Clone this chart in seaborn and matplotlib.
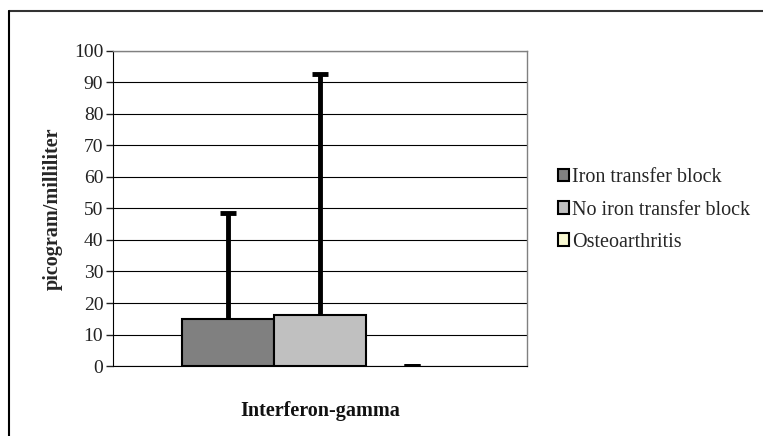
"""
Interferon-gamma levels by group, grouped bar chart with upper error bars
"""
import pandas as pd
import numpy as np
import matplotlib
matplotlib.use("Agg")
import matplotlib.pyplot as plt
import seaborn as sns
from matplotlib.lines import Line2D

# data
groups = ['Iron transfer block', 'No iron transfer block', 'Osteoarthritis']
cytokine = 'Interferon-gamma'
means = [14.8, 16.3, 0.0]
upper_err = [33.7, 76.3, 0.0]
colors = ['#808080', '#C0C0C0', '#FFFFCC']
y_ticks = [0, 10, 20, 30, 40, 50, 60, 70, 80, 90, 100]

df = pd.DataFrame({'cytokine': [cytokine] * len(groups),
                   'group': groups,
                   'value': means})

sns.set_style('white')
plt.rcParams['font.family'] = ['Liberation Serif', 'DejaVu Serif']

fig = plt.figure(figsize=(7.63, 4.36), dpi=100)
W, H = 763, 436
ax = fig.add_axes([113 / W, (H - 366) / H, (527 - 113) / W, (366 - 51) / H])

sns.barplot(data=df, x='cytokine', y='value', hue='group', hue_order=groups,
            palette=colors, width=0.8, edgecolor='black', linewidth=1.5,
            errorbar=None, ax=ax, zorder=3, legend=True)

bars = ax.patches[:len(groups)]
# a zero-height bar shows no outline
for patch, m in zip(bars, means):
    if m == 0:
        patch.set_linewidth(0)

# upper-only error bars from the bar centres
for patch, m, e in zip(bars, means, upper_err):
    xc = patch.get_x() + patch.get_width() / 2
    _, caps, _ = ax.errorbar(xc, m, yerr=[[0], [e]], fmt='none', ecolor='black',
                             elinewidth=3.5, capsize=5.5, capthick=3.5, zorder=4)
    if e > 0 and len(caps) == 2:
        caps[0].remove()

ax.set_xlim(-0.6, 0.6)
ax.set_ylim(0, 100)
ax.set_yticks(y_ticks)
ax.tick_params(axis='y', which='both', left=True, length=5, width=1,
               direction='out', labelsize=14, pad=2, colors='#222222')
ax.tick_params(axis='x', bottom=False, labelsize=14.5, pad=22)
for lbl in ax.get_xticklabels():
    lbl.set_fontweight('bold')
    lbl.set_color('#111111')
ax.yaxis.grid(True, color='black', linewidth=0.8)
ax.set_axisbelow(True)

ax.set_xlabel('')
ax.set_ylabel('picogram/milliliter', fontsize=14.5, fontweight='bold', labelpad=8)

for side in ['top', 'right']:
    ax.spines[side].set_color('#808080')
    ax.spines[side].set_linewidth(1)
ax.spines['left'].set_color('black')
ax.spines['bottom'].set_color('black')

leg = ax.legend(loc='center left', bbox_to_anchor=(1.03, 0.495), frameon=False,
                fontsize=14.5, handlelength=0.55, handleheight=0.55,
                handletextpad=0.15, labelspacing=0.65)
for h in leg.legend_handles:
    h.set_edgecolor('black')
    h.set_linewidth(1.5)

# outer chart border (top and left edges visible)
fig.add_artist(Line2D([9 / W, 1.0], [(H - 11) / H, (H - 11) / H],
                      transform=fig.transFigure, color='#333333', linewidth=1.5))
fig.add_artist(Line2D([9 / W, 9 / W], [(H - 11) / H, 0.0],
                      transform=fig.transFigure, color='black', linewidth=1.5))

fig.savefig('out.png', dpi=100)
plt.close(fig)
